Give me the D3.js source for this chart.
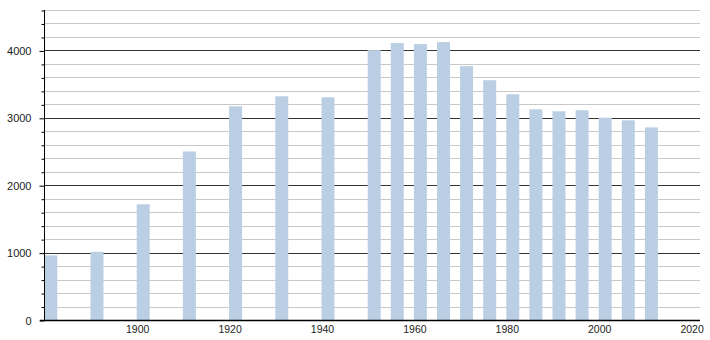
<!DOCTYPE html>
<html>
<head>
<meta charset="utf-8">
<script src="https://d3js.org/d3.v7.min.js"></script>
<style>
  body { margin: 0; background: #fff; }
  text { font-family: "Liberation Sans", Arial, sans-serif; fill: #222; }
</style>
</head>
<body>
<script>
// population by census year
var years = [1880, 1890, 1900, 1910, 1920, 1930, 1940, 1950, 1955, 1960, 1965,
             1970, 1975, 1980, 1985, 1990, 1995, 2000, 2005, 2010];
var population = [960, 1012, 1717, 2501, 3171, 3320, 3305, 4005, 4109, 4094, 4124,
                  3767, 3558, 3350, 3126, 3097, 3112, 3003, 2963, 2858];
var xTicks = [1900, 1920, 1940, 1960, 1980, 2000, 2020];
var yMajor = [0, 1000, 2000, 3000, 4000];

var W = 710, H = 340,
    plotLeft = 44, plotRight = 700, plotTop = 10, plotBottom = 320;

var svg = d3.select("body").append("svg")
    .attr("width", W)
    .attr("height", H);

var x = d3.scaleLinear().domain([1879.83, 2021.82]).range([plotLeft, plotRight]);
var y = d3.scaleLinear().domain([0, 4600]).range([plotBottom, plotTop]);

var minor = d3.range(200, 4601, 200).filter(function(v){ return v % 1000 != 0; });

// light grid lines every 200
svg.append("g")
    .selectAll("line")
    .data(minor)
    .enter().append("line")
    .attr("x1", plotLeft).attr("x2", plotRight)
    .attr("y1", function(d){ return Math.round(y(d)) + 0.5; })
    .attr("y2", function(d){ return Math.round(y(d)) + 0.5; })
    .attr("stroke", "#c8c8c8");

// dark grid lines every 1000
svg.append("g")
    .selectAll("line")
    .data(yMajor.slice(1))
    .enter().append("line")
    .attr("x1", plotLeft).attr("x2", plotRight)
    .attr("y1", function(d){ return Math.round(y(d)) + 0.5; })
    .attr("y2", function(d){ return Math.round(y(d)) + 0.5; })
    .attr("stroke", "#333");

// bars, left edge at the census year
var barW = 13;
svg.append("g")
    .selectAll("rect")
    .data(years)
    .enter().append("rect")
    .attr("x", function(d){ return Math.max(plotLeft + 1, x(d) - 0.5); })
    .attr("width", function(d){ return x(d) - 0.5 + barW - Math.max(plotLeft + 1, x(d) - 0.5); })
    .attr("y", function(d, i){ return y(population[i]); })
    .attr("height", function(d, i){ return plotBottom - y(population[i]); })
    .attr("fill", "#bbcfe4");

// y axis: minor ticks
svg.append("g")
    .attr("transform", "translate(" + (plotLeft + 0.5) + ",0.5)")
    .call(d3.axisLeft(y).tickValues(minor).tickSize(3).tickFormat(""))
    .call(function(g){ g.select(".domain").remove(); })
    .selectAll("line").attr("stroke", "#000");

// y axis: major ticks with labels
var yAxis = svg.append("g")
    .attr("transform", "translate(" + (plotLeft + 0.5) + ",0.5)")
    .call(d3.axisLeft(y).tickValues(yMajor).tickSize(5).tickPadding(8).tickFormat(d3.format("d")));
yAxis.select(".domain").attr("d", "M0," + (plotTop - 0.5) + "V" + (plotBottom - 0.5)).attr("stroke", "#000");
yAxis.selectAll("line").attr("stroke", "#000");
yAxis.selectAll("text").style("font-size", "11px").style("font-family", "'Liberation Sans', Arial, sans-serif").attr("fill", "#222");

// x axis: labels only
var xAxis = svg.append("g")
    .attr("transform", "translate(0," + (plotBottom + 0.5) + ")")
    .call(d3.axisBottom(x).tickValues(xTicks).tickSize(0).tickPadding(5).tickFormat(d3.format("d")));
xAxis.select(".domain").attr("d", "M40,0H" + plotRight).attr("stroke", "#000").attr("stroke-width", 1.3);
xAxis.selectAll("text").style("font-size", "10.5px").style("font-family", "'Liberation Sans', Arial, sans-serif").attr("fill", "#222");
</script>
</body>
</html>
